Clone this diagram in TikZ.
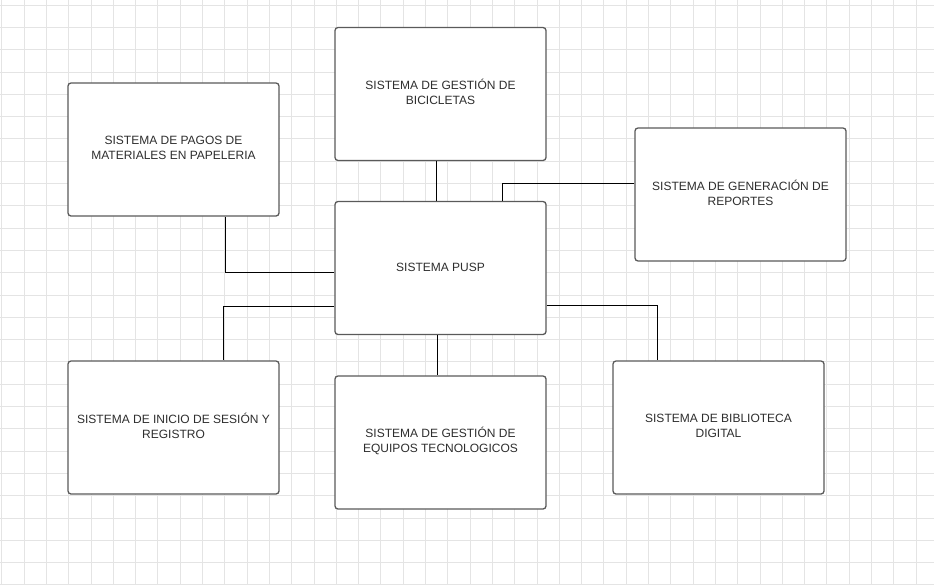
\documentclass[tikz,border=0pt]{standalone}
\usepackage{fontspec}
\setmainfont{Liberation Sans}
\definecolor{boxgray}{HTML}{5A5A5A}
\definecolor{textgray}{HTML}{2E2E2E}
\definecolor{gridgray}{HTML}{E4E4E4}
\begin{document}
\begin{tikzpicture}[x=1pt,y=-1pt,
  sysbox/.style={draw=boxgray, line width=1.3pt, rounded corners=3pt, fill=white,
    minimum width=211pt, minimum height=133pt, text width=205pt, align=center,
    font=\fontsize{12}{15}\selectfont, text=textgray, inner sep=0pt},
  lbl/.style={align=center, font=\fontsize{12}{15}\selectfont, text=textgray, inner sep=0pt},
  link/.style={draw=black, line width=1pt}]
\fill[white] (0,0) rectangle (934,584);
\useasboundingbox (0,0) rectangle (934,584);
\foreach \i in {0,...,41} {\draw[gridgray, line width=0.7pt] (1.7+22.3*\i,0) -- (1.7+22.3*\i,584);}
\foreach \j in {0,...,26} {\draw[gridgray, line width=0.7pt] (0,5+22.3*\j) -- (934,5+22.3*\j);}

\node[sysbox] (bic) at (440.5,94) {};
\node[sysbox] (pag) at (173.5,149.5) {};
\node[sysbox] (gen) at (740.5,194.5) {};
\node[sysbox] (pusp) at (440.5,268) {};
\node[sysbox] (ini) at (173.5,427.5) {};
\node[sysbox] (equ) at (440.5,442.5) {};
\node[sysbox] (bib) at (718.5,427.5) {};

\node[lbl] (tbic) at ([yshift=2pt]bic.center) {SISTEMA DE GESTIÓN DE\\BICICLETAS};
\node[lbl] (tpag) at ([yshift=2pt]pag.center) {SISTEMA DE PAGOS DE\\MATERIALES EN PAPELERIA};
\node[lbl] (tgen) at ([yshift=2pt]gen.center) {SISTEMA DE GENERACIÓN DE\\REPORTES};
\node[lbl] (tpusp) at ([yshift=1pt]pusp.center) {SISTEMA PUSP};
\node[lbl] (tini) at ([yshift=2pt]ini.center) {SISTEMA DE INICIO DE SESIÓN Y\\REGISTRO};
\node[lbl] (tequ) at ([yshift=2pt]equ.center) {SISTEMA DE GESTIÓN DE\\EQUIPOS TECNOLOGICOS};
\node[lbl] (tbib) at ([yshift=2pt]bib.center) {SISTEMA DE BIBLIOTECA\\DIGITAL};

\draw[link] ([xshift=-4.5pt]bic.south) -- ([xshift=-4.5pt]pusp.north);
\draw[link] ([xshift=51.5pt]pag.south) |- ([yshift=-4pt]pusp.west);
\draw[link] ([yshift=-38pt]pusp.west) -| ([xshift=49.5pt]ini.north);
\draw[link] ([xshift=-3.5pt]pusp.south) -- ([xshift=-3.5pt]equ.north);
\draw[link] ([yshift=-37pt]pusp.east) -| ([xshift=-61.5pt]bib.north);
\draw[link] ([xshift=61.5pt]pusp.north) |- ([yshift=11.5pt]gen.west);
\end{tikzpicture}
\end{document}
